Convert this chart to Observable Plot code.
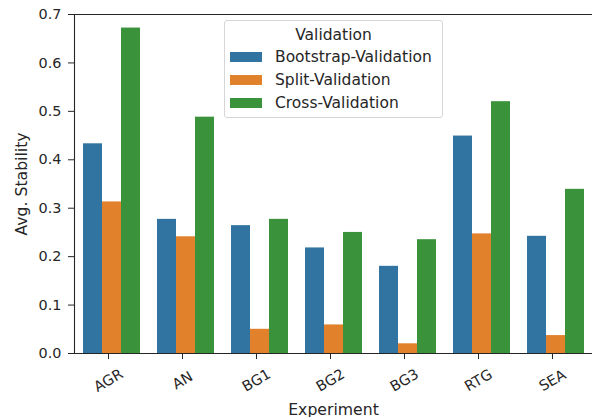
<!DOCTYPE html>
<html><head><meta charset="utf-8">
<script src="https://cdn.jsdelivr.net/npm/d3@7"></script>
<script src="https://cdn.jsdelivr.net/npm/@observablehq/plot@0.6"></script>
<style>
body{margin:0;background:#fff;font-family:"DejaVu Sans",sans-serif;}
#wrap{position:relative;width:595px;height:417px;overflow:hidden;}
#legend{position:absolute;left:224px;top:20px;width:217px;height:96px;border:1px solid #d6d6d6;border-radius:3px;background:rgba(255,255,255,0.85);font-size:15.5px;color:#262626;}
#legend .t{position:absolute;left:0;right:0;top:5px;text-align:center;line-height:18px;}
#legend .sw{position:absolute;left:5px;width:32px;height:10px;}
#legend .lb{position:absolute;left:50px;line-height:18px;white-space:nowrap;}
</style></head><body><div id="wrap"></div>
<script>
const experiments = ["AGR", "AN", "BG1", "BG2", "BG3", "RTG", "SEA"];
const validations = ["Bootstrap-Validation", "Split-Validation", "Cross-Validation"];
const bootstrap = [0.433, 0.277, 0.264, 0.218, 0.180, 0.449, 0.242];
const split = [0.313, 0.241, 0.050, 0.059, 0.020, 0.247, 0.037];
const cross = [0.672, 0.488, 0.277, 0.250, 0.235, 0.520, 0.339];
const colors = ["#3274a1", "#e1812c", "#3a923a"];
const yTicks = [0, 0.1, 0.2, 0.3, 0.4, 0.5, 0.6, 0.7];
const legendTitle = "Validation";

const seriesValues = [bootstrap, split, cross];
const data = experiments.flatMap((e, i) => validations.map((v, j) => ({experiment: e, validation: v, value: seriesValues[j][i]})));

const chart = Plot.plot({
  width: 595, height: 417,
  marginLeft: 71, marginRight: 0, marginTop: 14, marginBottom: 64,
  style: {fontFamily: "DejaVu Sans", fontSize: "14.4px", color: "#262626", background: "white"},
  fx: {domain: experiments, padding: 0, label: "Experiment"},
  x: {domain: validations, paddingInner: 0, paddingOuter: 0.375, axis: null},
  y: {domain: [0, 0.7]},
  color: {domain: validations, range: colors},
  marks: [
    Plot.barY(data, {fx: "experiment", x: "validation", y: "value", fill: "validation"}),
    Plot.ruleY([0.7], {stroke: "#262626", strokeWidth: 1.1}),
    Plot.ruleY([0], {stroke: "#262626", strokeWidth: 1.1}),
    Plot.frame({anchor: "left", facetAnchor: "left", stroke: "#262626", strokeWidth: 1.1}),
    Plot.axisY({ticks: yTicks, tickFormat: d3.format(".1f"), tickSize: 6, tickPadding: 7, fontSize: 14.4, label: null, stroke: "#262626"}),
    Plot.axisY({ticks: [], label: "Avg. Stability", labelAnchor: "center", labelArrow: false, labelOffset: 59, fontSize: 15.7}),
    Plot.axisFx({anchor: "bottom", tickSize: 6, tickRotate: -30, textAnchor: "middle", lineAnchor: "middle", tickPadding: 21, dx: -3, fontSize: 14.4, label: null, stroke: "#262626"}),
    Plot.axisFx({anchor: "bottom", ticks: [], label: "Experiment", labelAnchor: "center", labelArrow: false, fontSize: 15.7})
  ]
});
const wrap = document.getElementById("wrap");
wrap.appendChild(chart);

const color = chart.scale("color");
const lg = d3.select(wrap).append("div").attr("id", "legend");
lg.append("div").attr("class", "t").text(legendTitle);
color.domain.forEach((d, i) => {
  lg.append("div").attr("class", "sw").style("top", (31 + i * 23) + "px").style("background", color.range[i]);
  lg.append("div").attr("class", "lb").style("top", (27 + i * 23) + "px").text(d);
});
</script></body></html>
